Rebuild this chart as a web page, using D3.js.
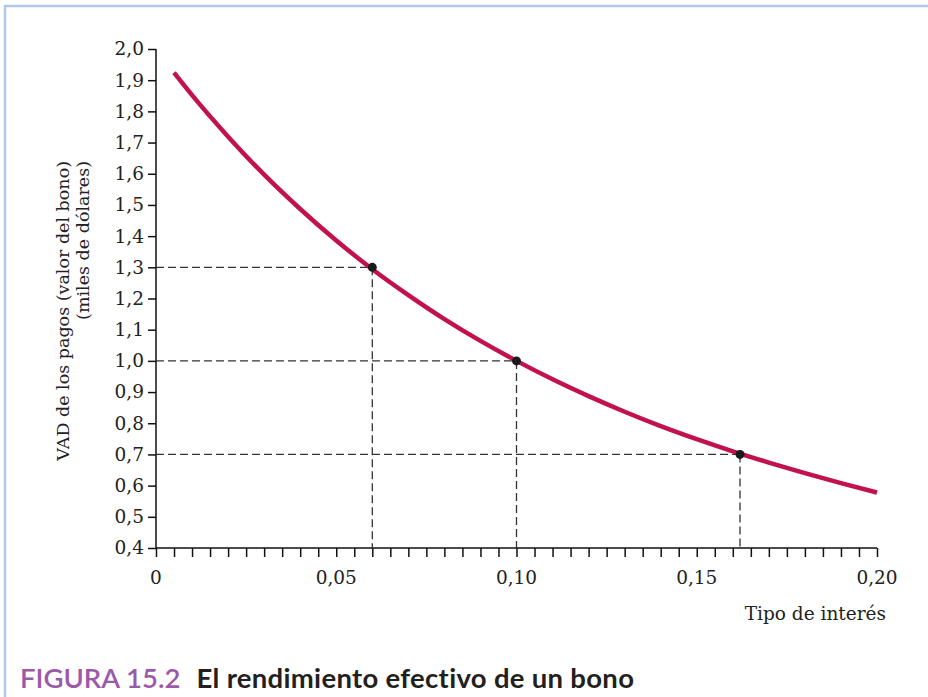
<!DOCTYPE html>
<html>
<head>
<meta charset="utf-8">
<script src="https://cdn.jsdelivr.net/npm/d3@7"></script>
<style>
  html, body { margin: 0; padding: 0; background: #fff; }
  svg { display: block; }
</style>
</head>
<body>
<svg id="chart" width="928" height="697"></svg>
<script>
// Interest rate (x) and present discounted value of the bond's payments, in thousands of dollars (y)
const rates = [0.005, 0.01, 0.02, 0.03, 0.04, 0.05, 0.06, 0.07, 0.08, 0.09, 0.10,
               0.11, 0.12, 0.13, 0.14, 0.15, 0.16, 0.17, 0.18, 0.19, 0.20];
const bondValues = [1.924, 1.852, 1.719, 1.597, 1.487, 1.386, 1.294, 1.211, 1.134, 1.064, 1.000,
                    0.941, 0.887, 0.837, 0.791, 0.749, 0.710, 0.674, 0.640, 0.608, 0.578];

// Marked points with their reference lines
const markRates = [0.06, 0.10, 0.162];
const markValues = [1.3, 1.0, 0.7];

// Axis ticks
const yTicks = [0.4, 0.5, 0.6, 0.7, 0.8, 0.9, 1.0, 1.1, 1.2, 1.3, 1.4, 1.5, 1.6, 1.7, 1.8, 1.9, 2.0];
const xLabelTicks = [0, 0.05, 0.10, 0.15, 0.20];
const xLabelText = ["0", "0,05", "0,10", "0,15", "0,20"];

const svg = d3.select("#chart");
const serif = "'DejaVu Serif', 'Liberation Serif', serif";
const sans = "Lato, 'Open Sans', sans-serif";
const tickSize = 18.5;
const titleSize = 17.5;

// Frame: top and left rule
svg.append("line").attr("x1", 4).attr("x2", 928).attr("y1", 6).attr("y2", 6)
  .attr("stroke", "#b3c6ec").attr("stroke-width", 2.5);
svg.append("line").attr("x1", 5).attr("x2", 5).attr("y1", 5).attr("y2", 697)
  .attr("stroke", "#b3c6ec").attr("stroke-width", 2.5);

const x = d3.scaleLinear().domain([0, 0.20]).range([156, 877]);
const y = d3.scaleLinear().domain([0.4, 2.0]).range([548, 49]);

// Y axis
const yAxis = d3.axisLeft(y).tickValues(yTicks).tickSize(8).tickPadding(4)
  .tickFormat(d => d3.format(".1f")(d).replace(".", ","));
const gy = svg.append("g").attr("transform", `translate(${x(0)},0)`).call(yAxis);
gy.select(".domain").attr("stroke", "#111").attr("stroke-width", 1.5)
  .attr("d", `M0,${y(2.0)}V${y(0.4)}`);
gy.selectAll(".tick line").attr("stroke", "#111").attr("stroke-width", 1.5);
gy.selectAll(".tick text").attr("font-family", serif).attr("font-size", tickSize)
  .attr("fill", "#222");

// X axis: minor ticks every 0.005, labels at 0.05 steps
const minorTicks = d3.range(0, 41).map(i => i * 0.005);
const xAxis = d3.axisBottom(x).tickValues(minorTicks).tickSize(9).tickFormat("");
const gx = svg.append("g").attr("transform", `translate(0,${y(0.4)})`).call(xAxis);
gx.select(".domain").attr("stroke", "#111").attr("stroke-width", 1.5)
  .attr("d", `M${x(0)},0H${x(0.20)}`);
gx.selectAll(".tick line").attr("stroke", "#111").attr("stroke-width", 1.5);

svg.append("g").selectAll("text").data(xLabelTicks).join("text")
  .attr("x", d => x(d)).attr("y", 584)
  .attr("text-anchor", "middle")
  .attr("font-family", serif).attr("font-size", tickSize).attr("fill", "#222")
  .text((d, i) => xLabelText[i]);

// Axis titles
svg.append("text").attr("x", 886).attr("y", 620).attr("text-anchor", "end")
  .attr("font-family", serif).attr("font-size", 18.5).attr("fill", "#222")
  .text("Tipo de interés");

const yTitle = svg.append("text")
  .attr("transform", "translate(69,161) rotate(-90)")
  .attr("text-anchor", "end")
  .attr("font-family", serif).attr("font-size", titleSize).attr("fill", "#222");
yTitle.append("tspan").attr("x", 0).attr("y", 0).text("VAD de los pagos (valor del bono)");
yTitle.append("tspan").attr("x", 0).attr("y", 20).text("(miles de dólares)");

// Dashed reference lines to the marked points
const refs = svg.append("g").attr("stroke", "#333").attr("stroke-width", 1.3)
  .attr("stroke-dasharray", "8,4").attr("fill", "none");
markRates.forEach((r, i) => {
  refs.append("line").attr("x1", x(0)).attr("x2", x(r))
    .attr("y1", y(markValues[i])).attr("y2", y(markValues[i]));
  refs.append("line").attr("x1", x(r)).attr("x2", x(r))
    .attr("y1", y(markValues[i])).attr("y2", y(0.4));
});

// Bond value curve
const line = d3.line().x((d, i) => x(rates[i])).y(d => y(d)).curve(d3.curveMonotoneX);
svg.append("path").datum(bondValues).attr("d", line)
  .attr("fill", "none").attr("stroke", "#c2124d").attr("stroke-width", 4.5);

// Points
svg.append("g").selectAll("circle").data(markRates).join("circle")
  .attr("cx", d => x(d)).attr("cy", (d, i) => y(markValues[i])).attr("r", 4.5)
  .attr("fill", "#1a1a1a");

// Caption
const cap = svg.append("text").attr("x", 20).attr("y", 688)
  .attr("font-family", sans).attr("font-size", 27.5);
cap.append("tspan").attr("fill", "#9b5aa8").attr("font-weight", 600)
  .text("FIGURA 15.2");
cap.append("tspan").attr("dx", 16).attr("fill", "#231f20").attr("font-weight", 700)
  .attr("letter-spacing", 0.3).text("El rendimiento efectivo de un bono");
</script>
</body>
</html>
